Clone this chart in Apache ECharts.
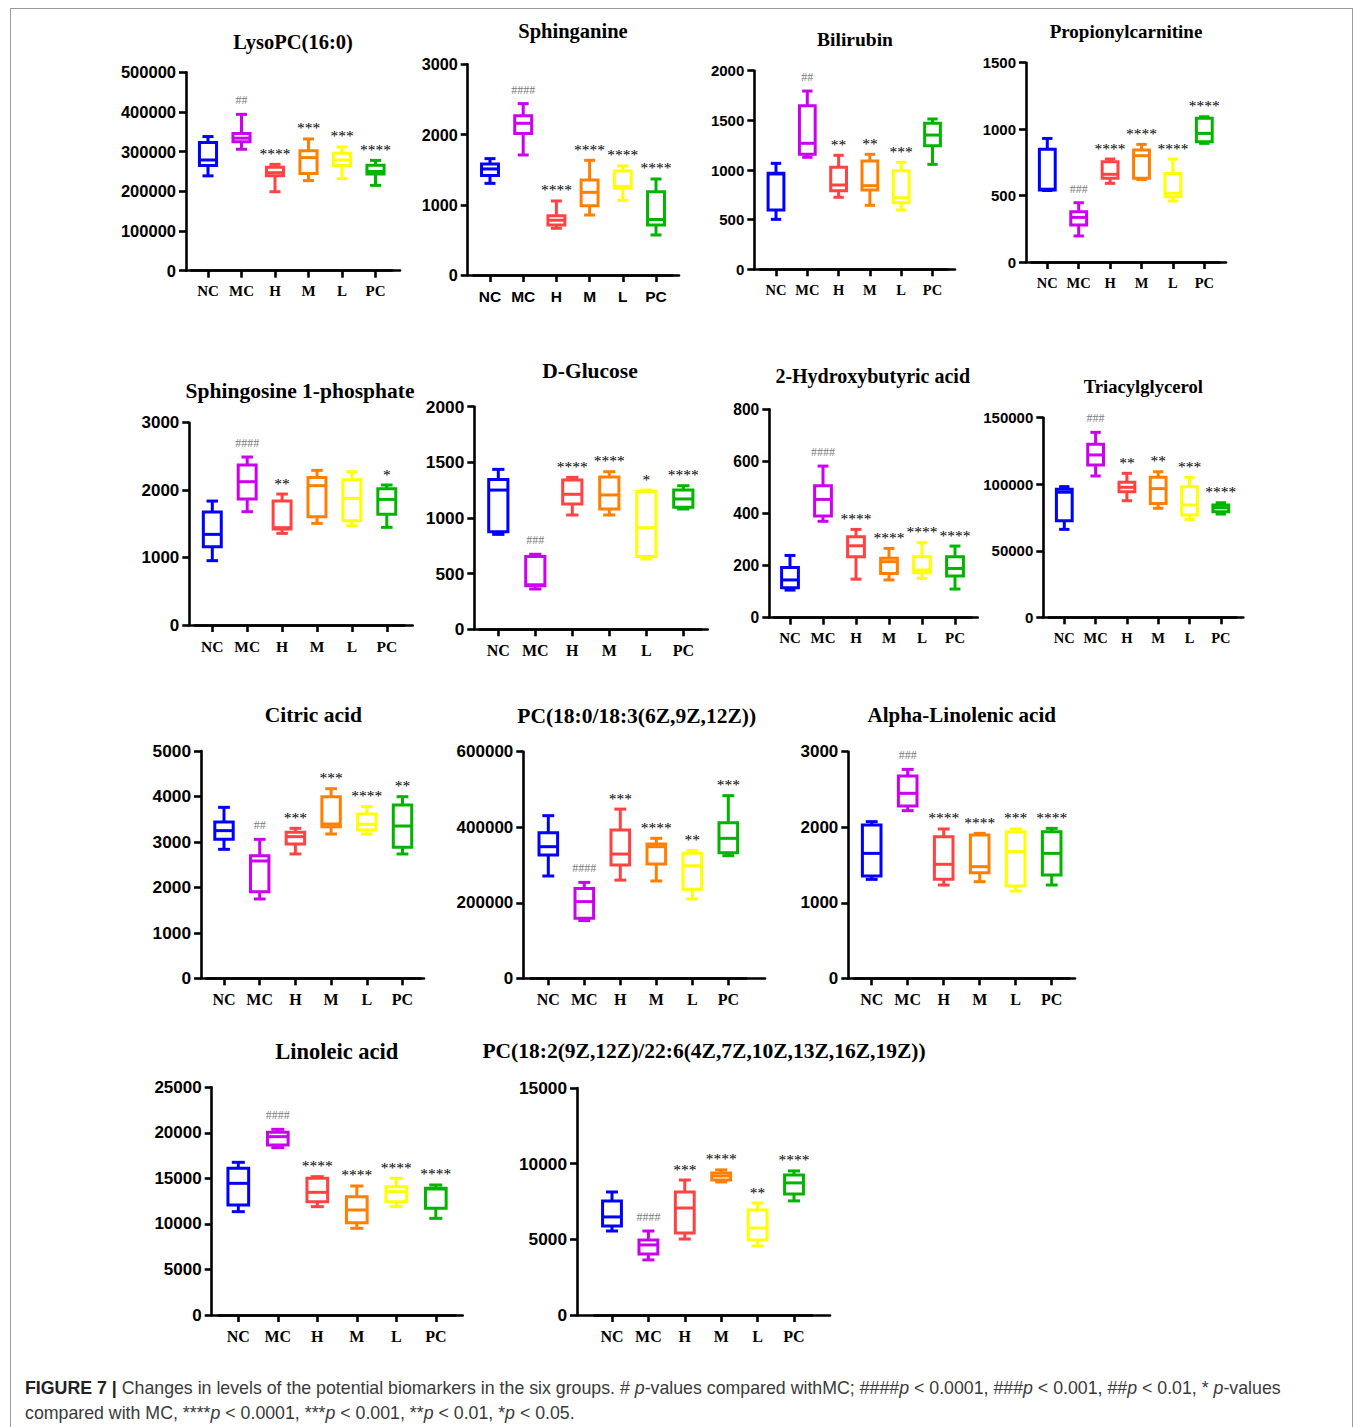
<!DOCTYPE html>
<html>
<head>
<meta charset="utf-8">
<script src="https://cdn.jsdelivr.net/npm/echarts@6/dist/echarts.min.js"></script>
<style>
  html, body { margin: 0; padding: 0; background: #fff; }
  #frame { position: absolute; left: 10px; top: 8px; width: 1343px; height: 1440px; border: 1px solid #9a9a9a; box-sizing: border-box; }
  #chart { position: absolute; left: 0; top: 0; width: 1355px; height: 1427px; }
  #cap { position: absolute; left: 25px; top: 1376px; font-family: "Liberation Sans", Arial, sans-serif; font-size: 17.75px; line-height: 25px; color: #3a3a3a; white-space: nowrap; }
  #cap b { color: #222; }
</style>
</head>
<body>
<div id="frame"></div>
<div id="chart"></div>
<div id="cap"><b>FIGURE 7 |</b> Changes in levels of the potential biomarkers in the six groups. # <i>p</i>-values compared withMC; ####<i>p</i> &lt; 0.0001, ###<i>p</i> &lt; 0.001, ##<i>p</i> &lt; 0.01, * <i>p</i>-values<br>compared with MC, ****<i>p</i> &lt; 0.0001, ***<i>p</i> &lt; 0.001, **<i>p</i> &lt; 0.01, *<i>p</i> &lt; 0.05.</div>
<script>
// ---------------- DATA ----------------
const categories = ['NC', 'MC', 'H', 'M', 'L', 'PC'];

const panelTitles = [
  'LysoPC(16:0)', 'Sphinganine', 'Bilirubin', 'Propionylcarnitine',
  'Sphingosine 1-phosphate', 'D-Glucose', '2-Hydroxybutyric acid', 'Triacylglycerol',
  'Citric acid', 'PC(18:0/18:3(6Z,9Z,12Z))', 'Alpha-Linolenic acid',
  'Linoleic acid', 'PC(18:2(9Z,12Z)/22:6(4Z,7Z,10Z,13Z,16Z,19Z))'
];

const yAxisMax = [500000, 3000, 2000, 1500, 3000, 2000, 800, 150000, 5000, 600000, 3000, 25000, 15000];
const yAxisInterval = [100000, 1000, 500, 500, 1000, 500, 200, 50000, 1000, 200000, 1000, 5000, 5000];

// each row: [min, Q1, median, Q3, max] for NC, MC, H, M, L, PC
const lysoPC = [
  [239000, 265000, 279000, 323000, 338000],
  [306000, 325000, 334000, 346000, 394000],
  [199000, 239000, 247000, 261000, 268000],
  [227000, 245000, 285000, 302000, 332000],
  [232000, 265000, 279000, 296000, 312000],
  [215000, 244000, 250000, 266000, 278000]
];
const lysoPCSig = ['', '##', '****', '***', '***', '****'];

const sphinganine = [
  [1305, 1415, 1510, 1581, 1657],
  [1709, 2013, 2160, 2269, 2440],
  [665, 712, 780, 845, 1054],
  [854, 987, 1177, 1353, 1633],
  [1063, 1234, 1258, 1481, 1552],
  [570, 712, 790, 1187, 1367]
];
const sphinganineSig = ['', '####', '****', '****', '****', '****'];

const bilirubin = [
  [503, 597, 960, 967, 1067],
  [1128, 1158, 1269, 1648, 1795],
  [725, 792, 849, 1027, 1148],
  [644, 799, 842, 1091, 1158],
  [597, 671, 720, 993, 1077],
  [1057, 1245, 1352, 1470, 1514]
];
const bilirubinSig = ['', '##', '**', '**', '***', ''];

const propionylcarnitine = [
  [538, 542, 548, 848, 930],
  [196, 278, 336, 379, 446],
  [592, 630, 660, 755, 775],
  [620, 630, 800, 843, 885],
  [459, 492, 517, 667, 775],
  [893, 905, 968, 1081, 1093]
];
const propionylcarnitineSig = ['', '###', '****', '****', '****', '****'];

const s1p = [
  [954, 1161, 1344, 1675, 1838],
  [1680, 1868, 2125, 2372, 2491],
  [1359, 1423, 1443, 1838, 1942],
  [1507, 1606, 2066, 2189, 2293],
  [1473, 1547, 1878, 2155, 2273],
  [1448, 1641, 1863, 2021, 2076]
];
const s1pSig = ['', '####', '**', '', '', '*'];

const glucose = [
  [853, 877, 1251, 1347, 1437],
  [362, 392, 400, 653, 674],
  [1027, 1126, 1213, 1341, 1365],
  [1027, 1081, 1207, 1368, 1416],
  [632, 653, 913, 1237, 1251],
  [1081, 1096, 1171, 1251, 1290]
];
const glucoseSig = ['', '###', '****', '****', '*', '****'];

const hydroxybutyric = [
  [106, 115, 145, 193, 239],
  [370, 390, 454, 507, 582],
  [148, 234, 276, 311, 339],
  [145, 170, 215, 228, 266],
  [151, 173, 183, 234, 288],
  [110, 160, 189, 234, 275]
];
const hydroxybutyricSig = ['', '####', '****', '****', '****', '****'];

const triacylglycerol = [
  [66100, 72600, 94000, 96200, 98200],
  [106200, 114400, 122000, 130000, 139000],
  [87600, 94400, 97700, 101400, 108200],
  [81900, 85600, 96700, 105200, 109400],
  [73600, 76900, 84400, 98200, 105200],
  [77600, 79400, 82400, 84400, 86100]
];
const triacylglycerolSig = ['', '###', '**', '**', '***', '****'];

const citric = [
  [2837, 3057, 3248, 3438, 3761],
  [1745, 1906, 2581, 2698, 3057],
  [2735, 2954, 3116, 3211, 3299],
  [3174, 3336, 3394, 3995, 4171],
  [3174, 3262, 3387, 3614, 3776],
  [2735, 2881, 3350, 3812, 3995]
];
const citricSig = ['', '##', '***', '***', '****', '**'];

const pc180 = [
  [270900, 326500, 348500, 385600, 430600],
  [152700, 158800, 203000, 238000, 254000],
  [260000, 300000, 329000, 392700, 448000],
  [257700, 302700, 348500, 355600, 370600],
  [210000, 235600, 298000, 331000, 338000],
  [324700, 332700, 370600, 412000, 483600]
];
const pc180Sig = ['', '####', '***', '****', '**', '***'];

const alphaLinolenic = [
  [1310, 1354, 1654, 2029, 2074],
  [2219, 2281, 2449, 2678, 2766],
  [1235, 1310, 1509, 1875, 1977],
  [1279, 1399, 1478, 1897, 1919],
  [1156, 1222, 1677, 1941, 1977],
  [1235, 1368, 1654, 1941, 1985]
];
const alphaLinolenicSig = ['', '###', '****', '****', '***', '****'];

const linoleic = [
  [11346, 12078, 14457, 16104, 16763],
  [18373, 18666, 19581, 20057, 20386],
  [11895, 12444, 13469, 15006, 15189],
  [9516, 10138, 11529, 12993, 14164],
  [11895, 12444, 13542, 14091, 15006],
  [10614, 11712, 13835, 13908, 14274]
];
const linoleicSig = ['', '####', '****', '****', '****', '****'];

const pc182 = [
  [5550, 5880, 6480, 7530, 8130],
  [3640, 4030, 4630, 4960, 5550],
  [5020, 5420, 7070, 8130, 8920],
  [8790, 8920, 9190, 9390, 9590],
  [4560, 4960, 5750, 6940, 7400],
  [7540, 8000, 8730, 9250, 9520]
];
const pc182Sig = ['', '####', '***', '****', '**', '****'];

const panelData = [lysoPC, sphinganine, bilirubin, propionylcarnitine, s1p, glucose,
  hydroxybutyric, triacylglycerol, citric, pc180, alphaLinolenic, linoleic, pc182];
const panelSig = [lysoPCSig, sphinganineSig, bilirubinSig, propionylcarnitineSig, s1pSig, glucoseSig,
  hydroxybutyricSig, triacylglycerolSig, citricSig, pc180Sig, alphaLinolenicSig, linoleicSig, pc182Sig];

// ---------------- LAYOUT / STYLE ----------------
const groupColors = ['#0000FF', '#CC00F0', '#FF4242', '#FF8000', '#FFFF00', '#00B400'];
const layout = [
  {ax: 186, xEnd: 400, c0: 208, sp: 33.5, top: 72.3, y0: 270.7, tx: 293, ty: 41.7, ts: 20.5, yl: 16.5, xl: 15, xf: 'serif'},
  {ax: 467.7, xEnd: 679, c0: 490, sp: 33.2, top: 64.3, y0: 275, tx: 573, ty: 31, ts: 20.5, yl: 16.2, xl: 15.5, xf: 'sans'},
  {ax: 754.3, xEnd: 955, c0: 776, sp: 31.3, top: 70.7, y0: 269.3, tx: 855, ty: 39.3, ts: 19.5, yl: 15, xl: 14.5, xf: 'serif'},
  {ax: 1026, xEnd: 1226, c0: 1047.3, sp: 31.4, top: 62.7, y0: 262, tx: 1126, ty: 31, ts: 19, yl: 15, xl: 14.5, xf: 'serif'},
  {ax: 189.3, xEnd: 412.7, c0: 212.3, sp: 34.9, top: 422.7, y0: 625, tx: 300, ty: 391, ts: 21.5, yl: 17, xl: 15.5, xf: 'serif'},
  {ax: 474.3, xEnd: 707.7, c0: 498.3, sp: 37, top: 406.7, y0: 629.3, tx: 590, ty: 371, ts: 21.5, yl: 17.3, xl: 16, xf: 'serif'},
  {ax: 769.3, xEnd: 977.7, c0: 790, sp: 33, top: 409.3, y0: 617.7, tx: 872.7, ty: 376, ts: 20, yl: 15.6, xl: 15, xf: 'serif'},
  {ax: 1043.3, xEnd: 1243.3, c0: 1064.3, sp: 31.3, top: 417.7, y0: 617.3, tx: 1143.3, ty: 386, ts: 18.6, yl: 15, xl: 14.5, xf: 'serif'},
  {ax: 201, xEnd: 424, c0: 224, sp: 35.7, top: 751, y0: 978.3, tx: 313.3, ty: 715, ts: 21.5, yl: 17.3, xl: 16, xf: 'serif'},
  {ax: 523.3, xEnd: 765, c0: 548.3, sp: 36, top: 751.7, y0: 978.3, tx: 636.7, ty: 716, ts: 21.5, yl: 17, xl: 16, xf: 'serif'},
  {ax: 848.3, xEnd: 1075, c0: 871.7, sp: 36, top: 751.7, y0: 978.3, tx: 961.7, ty: 715, ts: 21, yl: 17, xl: 16, xf: 'serif'},
  {ax: 211.7, xEnd: 462.7, c0: 238.3, sp: 39.5, top: 1087.3, y0: 1315, tx: 336.7, ty: 1051, ts: 22.5, yl: 17, xl: 16, xf: 'serif'},
  {ax: 577, xEnd: 830, c0: 612, sp: 36.4, top: 1088, y0: 1315, tx: 704, ty: 1051, ts: 21.5, yl: 17.3, xl: 16, xf: 'serif'}
];

const SERIF = '"Liberation Serif", "Times New Roman", serif';
const SANS = '"Liberation Sans", Arial, sans-serif';
const axisLineStyle = {color: '#000', width: 2.6};

function makeRender(sig, L) {
  return function (params, api) {
    const i = api.value(0);
    const v = [1, 2, 3, 4, 5].map(d => api.value(d));
    const x = api.coord([i, v[0]])[0];
    const y = v.map(val => api.coord([i, val])[1]);
    const bw = L.sp * 0.3 - 1.5;
    const cw = L.sp * 0.165;
    const color = groupColors[i];
    const st = {stroke: color, lineWidth: 3, fill: 'none', lineCap: 'butt', lineJoin: 'miter'};
    const children = [
      {type: 'line', shape: {x1: x, y1: y[4], x2: x, y2: y[3]}, style: st},
      {type: 'line', shape: {x1: x, y1: y[1], x2: x, y2: y[0]}, style: st},
      {type: 'line', shape: {x1: x - cw, y1: y[4], x2: x + cw, y2: y[4]}, style: st},
      {type: 'line', shape: {x1: x - cw, y1: y[0], x2: x + cw, y2: y[0]}, style: st},
      {type: 'rect', shape: {x: x - bw, y: y[3], width: 2 * bw, height: Math.max(y[1] - y[3], 0.5)}, style: st},
      {type: 'line', shape: {x1: x - bw, y1: y[2], x2: x + bw, y2: y[2]}, style: st}
    ];
    const s = sig[params.dataIndex];
    if (s) {
      const hash = s.charAt(0) === '#';
      children.push({
        type: 'text',
        style: {
          text: s, x: x, y: y[4] - (hash ? 8 : 3),
          align: 'center', verticalAlign: 'bottom',
          fill: hash ? '#7a7a7a' : '#000',
          fontSize: hash ? 12 : 15.5, fontFamily: SERIF, fontWeight: 'normal'
        }
      });
    }
    return {type: 'group', children: children};
  };
}

const grids = [], xAxes = [], yAxes = [], series = [], graphics = [];

panelData.forEach(function (data, k) {
  const L = layout[k];
  const h = L.y0 - L.top;
  grids.push({left: L.ax, top: L.top, width: L.xEnd - L.ax, height: h});
  const gF = grids.length - 1;
  xAxes.push({
    gridIndex: gF, type: 'value', min: 0, max: 1,
    axisLine: {show: true, onZero: false, lineStyle: axisLineStyle},
    axisTick: {show: false}, axisLabel: {show: false}, splitLine: {show: false}
  });
  yAxes.push({
    gridIndex: gF, type: 'value', min: 0, max: yAxisMax[k], interval: yAxisInterval[k],
    axisLine: {show: true, onZero: false, lineStyle: axisLineStyle},
    axisTick: {show: true, length: 7, lineStyle: axisLineStyle},
    axisLabel: {show: true, margin: 10, color: '#000', fontFamily: SANS, fontWeight: 'bold', fontSize: L.yl,
      formatter: function (v) { return String(v); }},
    splitLine: {show: false}
  });
  grids.push({left: L.c0 - L.sp / 2, top: L.top, width: 6 * L.sp, height: h});
  const gP = grids.length - 1;
  xAxes.push({
    gridIndex: gP, type: 'category', data: categories, boundaryGap: true,
    axisLine: {show: true, onZero: false, lineStyle: axisLineStyle},
    axisTick: {show: true, alignWithLabel: true, interval: 0, length: 7, lineStyle: axisLineStyle},
    axisLabel: {show: true, interval: 0, margin: 13, color: '#000', fontWeight: 'bold', fontSize: L.xl,
      fontFamily: L.xf === 'sans' ? SANS : SERIF},
    splitLine: {show: false}
  });
  yAxes.push({gridIndex: gP, type: 'value', min: 0, max: yAxisMax[k], show: false, splitLine: {show: false}});
  series.push({
    type: 'custom',
    name: panelTitles[k],
    xAxisIndex: xAxes.length - 1,
    yAxisIndex: yAxes.length - 1,
    clip: false,
    data: data.map((d, i) => [i].concat(d)),
    encode: {x: 0, y: [1, 2, 3, 4, 5]},
    renderItem: makeRender(panelSig[k], L)
  });
  graphics.push({
    type: 'text', x: L.tx, y: L.ty,
    style: {text: panelTitles[k], align: 'center', verticalAlign: 'middle',
      fontFamily: SERIF, fontWeight: 'bold', fontSize: L.ts, fill: '#000'}
  });
});

const chart = echarts.init(document.getElementById('chart'), null, {renderer: 'svg'});
chart.setOption({
  animation: false,
  backgroundColor: 'transparent',
  grid: grids,
  xAxis: xAxes,
  yAxis: yAxes,
  series: series,
  graphic: graphics
});
</script>
</body>
</html>
